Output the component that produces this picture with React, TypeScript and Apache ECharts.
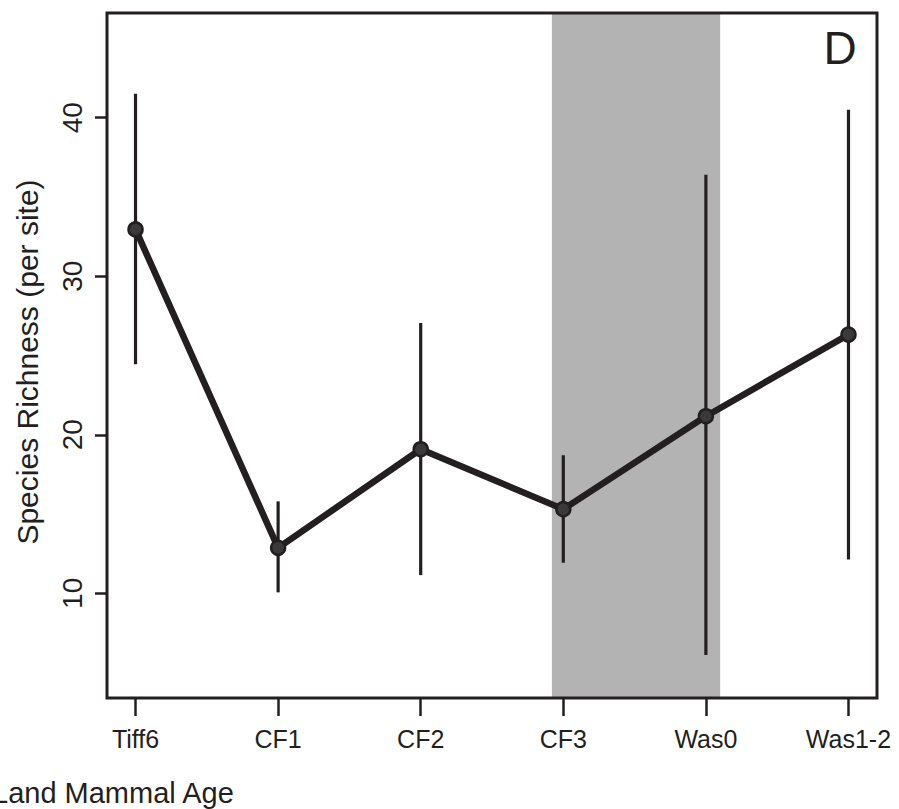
import React, { useEffect, useRef } from "react";
import * as echarts from "echarts";

const categories = ["Tiff6", "CF1", "CF2", "CF3", "Was0", "Was1-2"];
const xPositions = [1, 2, 3, 4, 5, 6];
const richness = [32.95, 12.87, 19.09, 15.31, 21.17, 26.32];
const lowerCI = [24.45, 10.06, 11.15, 11.93, 6.11, 12.14];
const upperCI = [41.5, 15.8, 27.05, 18.71, 36.4, 40.5];
const yTicks = [10, 20, 30, 40];
const shadedRange = [3.92, 5.1];
const yLimits = [3.4, 46.6];
const xLimits = [0.8, 6.2];

const INK = "#231f20";
const FONT = "'Liberation Sans', Arial, Helvetica, sans-serif";

export default function App() {
  const ref = useRef<HTMLDivElement>(null);
  useEffect(() => {
    const chart = echarts.init(ref.current!, null, { renderer: "svg" });
    const G = { left: 107, top: 13, width: 770, height: 685 };
    const lineData = xPositions.map((x, i) => [x, richness[i]]);
    const barData = xPositions.map((x, i) => [x, lowerCI[i], upperCI[i]]);
    chart.setOption({
      animation: false,
      backgroundColor: "#ffffff",
      grid: { ...G, show: false },
      xAxis: {
        type: "value",
        min: xLimits[0],
        max: xLimits[1],
        splitLine: { show: false },
        axisLine: { show: false },
        axisTick: {
          show: true,
          inside: false,
          length: 18,
          customValues: xPositions,
          lineStyle: { color: INK, width: 2.5 },
        },
        axisLabel: {
          customValues: xPositions,
          formatter: (v: number) => categories[Math.round(v) - 1] ?? "",
          fontSize: 25,
          fontFamily: FONT,
          color: INK,
          margin: 28,
        },
      },
      yAxis: {
        type: "value",
        min: yLimits[0],
        max: yLimits[1],
        splitLine: { show: false },
        axisLine: { show: false },
        axisTick: {
          show: true,
          inside: false,
          length: 12,
          customValues: yTicks,
          lineStyle: { color: INK, width: 2.5 },
        },
        axisLabel: {
          customValues: yTicks,
          rotate: 90,
          fontSize: 28,
          fontFamily: FONT,
          color: INK,
          margin: 21,
        },
      },
      series: [
        {
          type: "custom",
          name: "ci",
          z: 3,
          data: barData,
          renderItem: (params: any, api: any) => {
            const x = api.value(0);
            const p1 = api.coord([x, api.value(1)]);
            const p2 = api.coord([x, api.value(2)]);
            return {
              type: "line",
              shape: { x1: p1[0], y1: p1[1], x2: p2[0], y2: p2[1] },
              style: { stroke: INK, lineWidth: 3.2 },
            };
          },
          markArea: {
            silent: true,
            itemStyle: { color: "#b3b3b3" },
            data: [
              [
                { xAxis: shadedRange[0], yAxis: yLimits[0] },
                { xAxis: shadedRange[1], yAxis: yLimits[1] },
              ],
            ],
          },
        },
        {
          type: "line",
          name: "richness",
          z: 5,
          data: lineData,
          symbol: "circle",
          symbolSize: 14,
          lineStyle: { color: INK, width: 6.5 },
          itemStyle: { color: "#3a3a3a", borderColor: INK, borderWidth: 2.5 },
        },
      ],
      graphic: [
        {
          type: "rect",
          z: 100,
          shape: { x: G.left, y: G.top, width: G.width, height: G.height },
          style: { fill: "none", stroke: INK, lineWidth: 3 },
        },
        {
          type: "text",
          z: 100,
          x: 840,
          y: 48,
          style: {
            text: "D",
            font: `46px ${FONT}`,
            fill: INK,
            textAlign: "center",
            textVerticalAlign: "middle",
          },
        },
        {
          type: "text",
          z: 100,
          x: 27,
          y: 362,
          rotation: Math.PI / 2,
          style: {
            text: "Species Richness (per site)",
            font: `30px ${FONT}`,
            fill: INK,
            textAlign: "center",
            textVerticalAlign: "middle",
          },
        },
        {
          type: "text",
          z: 100,
          x: -8,
          y: 793,
          style: {
            text: "Land Mammal Age",
            font: `29px ${FONT}`,
            fill: INK,
            textAlign: "left",
            textVerticalAlign: "middle",
          },
        },
      ],
    });
    return () => chart.dispose();
  }, []);
  return (
    <div
      ref={ref}
      style={{ position: "fixed", left: 0, top: 0, width: 899, height: 809, background: "#fff" }}
    />
  );
}
